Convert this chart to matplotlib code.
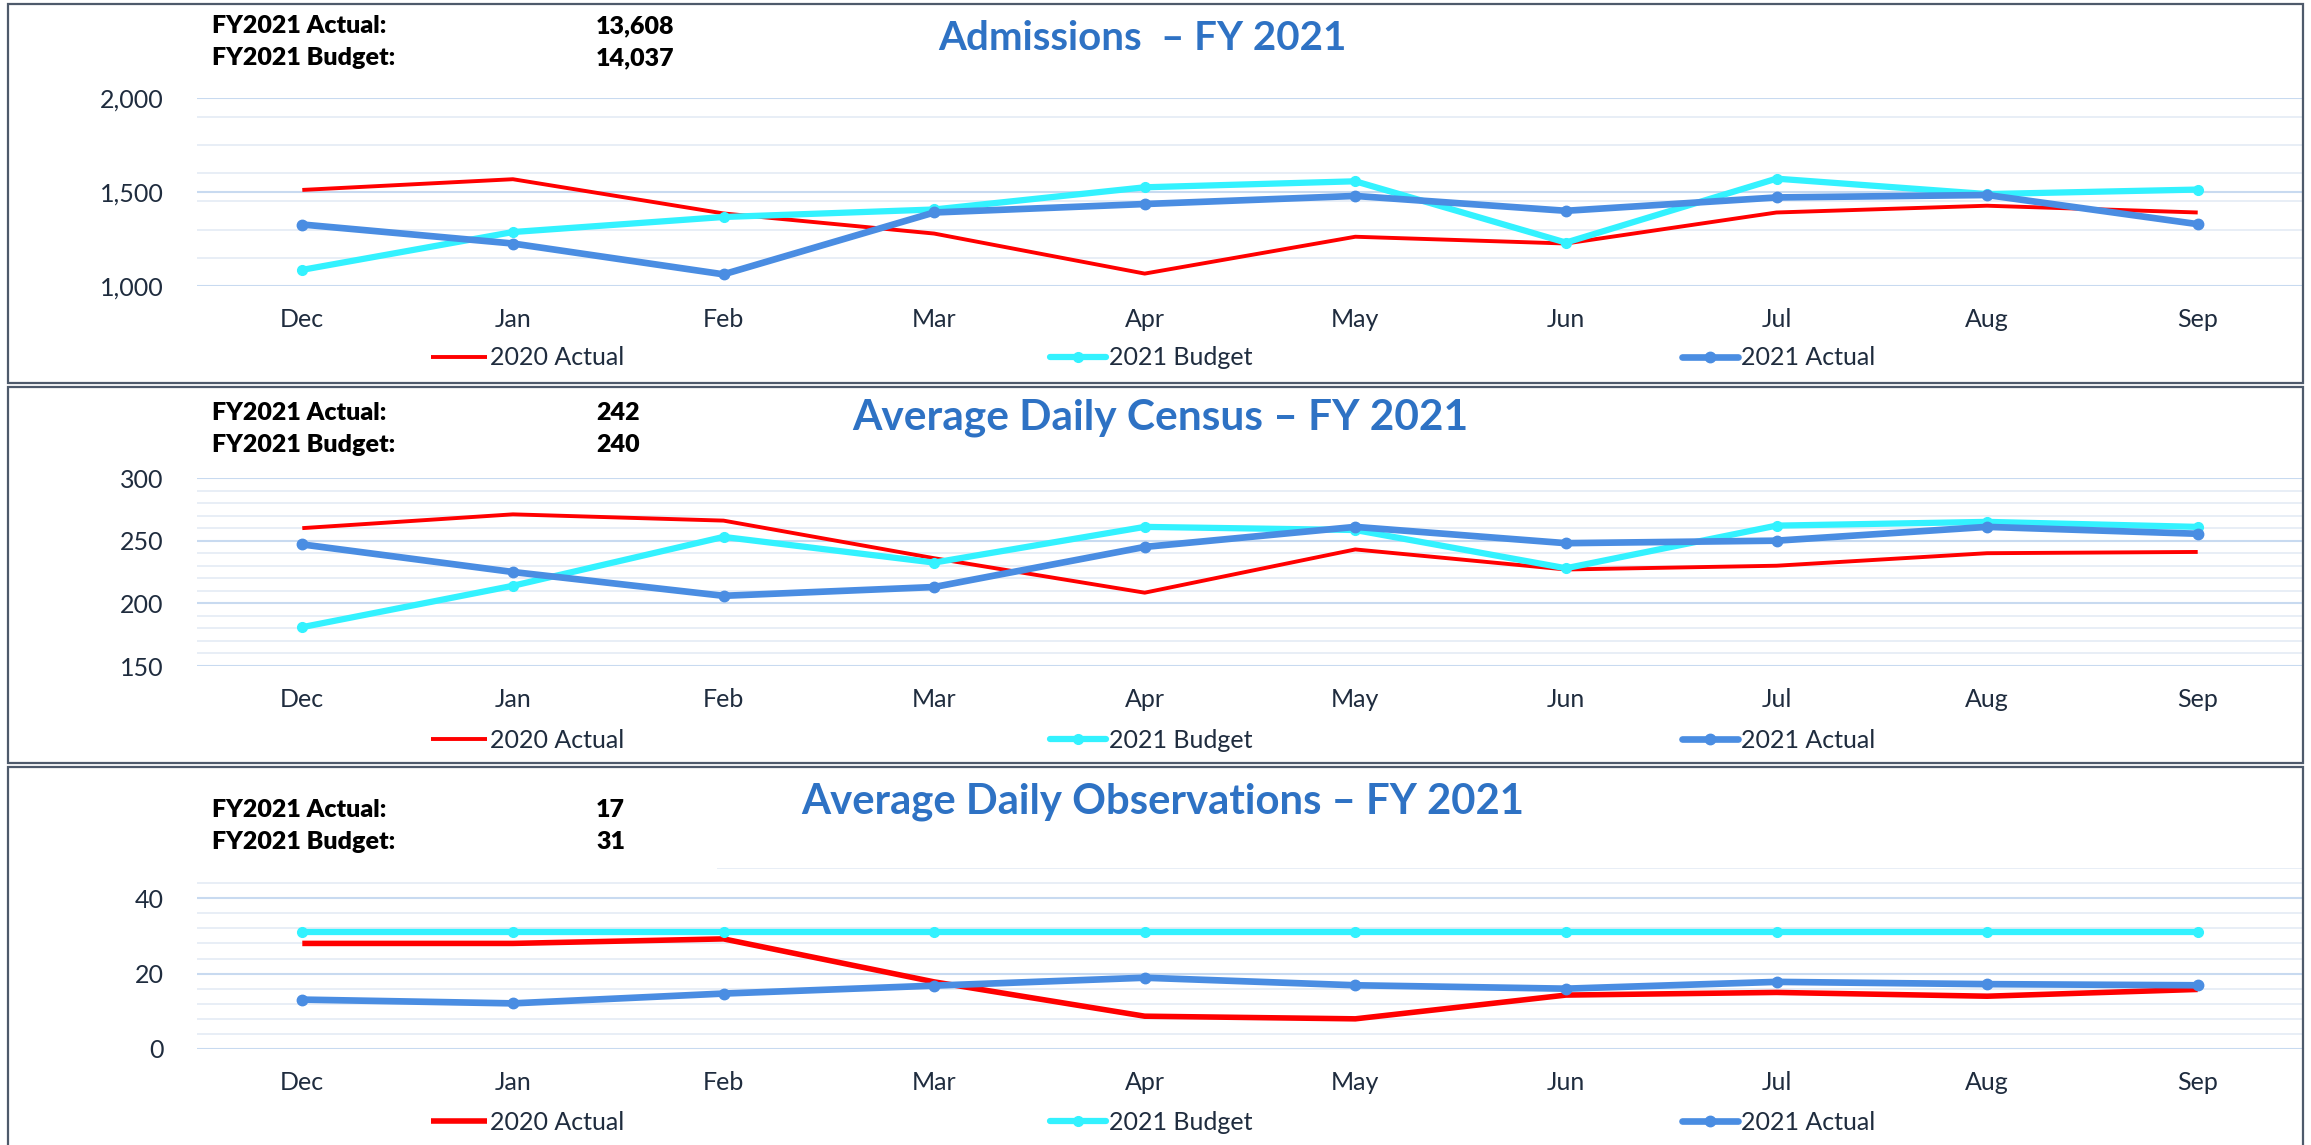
import matplotlib
matplotlib.use('Agg')
import matplotlib.pyplot as plt
from matplotlib.patches import Rectangle
from matplotlib.ticker import FuncFormatter, FixedLocator

# ---------------- data ----------------
months = ['Dec', 'Jan', 'Feb', 'Mar', 'Apr', 'May', 'Jun', 'Jul', 'Aug', 'Sep']
series_names = ['2020 Actual', '2021 Budget', '2021 Actual']

adm_2020_actual = [1511, 1568, 1386, 1279, 1066, 1262, 1226, 1391, 1427, 1391]
adm_2021_budget = [1086, 1287, 1367, 1407, 1525, 1557, 1231, 1571, 1489, 1513]
adm_2021_actual = [1327, 1226, 1062, 1391, 1436, 1479, 1400, 1471, 1484, 1329]

adc_2020_actual = [260, 271, 266, 236, 208.5, 243, 227, 230, 240, 241]
adc_2021_budget = [181, 214, 253, 232.5, 261, 258.5, 228, 262, 265, 261]
adc_2021_actual = [247, 225, 206, 213, 245, 261, 248, 250, 261, 255.5]

obs_2020_actual = [28, 28, 29.2, 17.8, 8.7, 8.0, 14.3, 15.0, 14.0, 15.8]
obs_2021_budget = [31, 31, 31, 31, 31, 31, 31, 31, 31, 31]
obs_2021_actual = [13.1, 12.1, 14.7, 16.8, 18.9, 16.9, 16.0, 17.8, 17.2, 16.9]

titles = ['Admissions  \u2013 FY 2021',
          'Average Daily Census \u2013 FY 2021',
          'Average Daily Observations \u2013 FY 2021']
summary_labels = ['FY2021 Actual:', 'FY2021 Budget:']
summary_values = [['13,608', '14,037'], ['242', '240'], ['17', '31']]

y_limits = [(1000, 2000), (150, 300), (0, 48)]
y_major = [[1000, 1500, 2000], [150, 200, 250, 300], [0, 20, 40]]
y_minor = [[1150, 1300, 1450, 1600, 1750, 1900],
           [160, 170, 180, 190, 210, 220, 230, 240, 260, 270, 280, 290],
           [4, 8, 12, 16, 24, 28, 32, 36, 44, 48]]

# ---------------- style ----------------
W, H = 2311, 1145
RED = '#FF0000'
CYAN = '#33F2FF'
BLUE = '#4A8DE2'
TITLE_C = '#2E72C4'
TXT = '#1F2C3E'
GRID_MAJ = '#C8DAF0'
GRID_MIN = '#E6EDF6'
BORDER = '#4E5A6B'
FONT = 'Lato'

fig = plt.figure(figsize=(W / 100, H / 100), dpi=100)
fig.patch.set_facecolor('white')


def fx(x):
    return x / W


def fy(y):
    return 1 - y / H


# panel geometry in pixels (top of axes, bottom of axes)
axes_px = [(98, 286), (478, 666), (868, 1049)]
panel_box = [(4, 383), (387, 763), (767, 1160)]
title_pos = [(1142, 38), (1160, 418), (1163, 802)]
title_size = [29, 30.5, 30.2]
summary_y = [(26, 58), (413, 445), (810, 842)]
legend_y = [358, 740, 1122]
red_lw = [2.8, 2.8, 4.0]

data = [
    (adm_2020_actual, adm_2021_budget, adm_2021_actual),
    (adc_2020_actual, adc_2021_budget, adc_2021_actual),
    (obs_2020_actual, obs_2021_budget, obs_2021_actual),
]

x_left, x_right = 197, 2303

for i in range(3):
    top, bot = axes_px[i]
    ax = fig.add_axes([fx(x_left), fy(bot), (x_right - x_left) / W, (bot - top) / H])
    ax.set_facecolor('none')
    for s in ax.spines.values():
        s.set_visible(False)
    xs = list(range(len(months)))
    a2020, b2021, a2021 = data[i]
    l1, = ax.plot(xs, a2020, color=RED, lw=red_lw[i], solid_capstyle='butt', zorder=3,
                  clip_on=False)
    l2, = ax.plot(xs, b2021, color=CYAN, lw=4.5, marker='o', ms=7, mec=CYAN, mfc=CYAN,
                  solid_capstyle='round', zorder=4, clip_on=False)
    l3, = ax.plot(xs, a2021, color=BLUE, lw=4.8, marker='o', ms=7.5, mec=BLUE, mfc=BLUE,
                  solid_capstyle='round', zorder=5, clip_on=False)
    ax.set_xlim(-0.5, len(months) - 0.5)
    ax.set_ylim(*y_limits[i])
    ax.set_xticks(xs)
    ax.set_xticklabels(months)
    ax.yaxis.set_major_locator(FixedLocator(y_major[i]))
    ax.yaxis.set_minor_locator(FixedLocator(y_minor[i]))
    ax.yaxis.set_major_formatter(FuncFormatter(lambda v, p: f'{int(v):,}'))
    ax.tick_params(axis='both', which='both', length=0, labelsize=18, labelcolor=TXT)
    ax.tick_params(axis='y', pad=24)
    ax.tick_params(axis='x', pad=16)
    for lab in ax.get_xticklabels() + ax.get_yticklabels():
        lab.set_fontfamily(FONT)
    ax.grid(True, which='major', axis='y', color=GRID_MAJ, lw=1.5, zorder=0)
    ax.grid(True, which='minor', axis='y', color=GRID_MIN, lw=1.3, zorder=0)
    ax.set_axisbelow(True)

    # legends (Excel-style, spread across the width)
    leg_x = [431, 1050, 1682]
    handles = [l1, l2, l3]
    for j in range(3):
        lg = ax.legend(handles=[handles[j]], labels=[series_names[j]], loc='center left',
                       bbox_to_anchor=(fx(leg_x[j]), fy(legend_y[i])),
                       bbox_transform=fig.transFigure, frameon=False, borderpad=0,
                       borderaxespad=0, handlelength=2.25, handletextpad=0.12,
                       numpoints=1, prop={'family': FONT, 'size': 18})
        for t in lg.get_texts():
            t.set_color(TXT)
        if j < 2:
            ax.add_artist(lg)

    # title
    fig.text(fx(title_pos[i][0]), fy(title_pos[i][1]), titles[i], ha='center',
             va='center', fontsize=title_size[i], fontweight='bold', color=TITLE_C,
             family=FONT)
    # summary text
    for k in range(2):
        fig.text(fx(212), fy(summary_y[i][k]), summary_labels[k], ha='left', va='center',
                 fontsize=18, fontweight='heavy', color='black', family=FONT, zorder=10)
        fig.text(fx(596), fy(summary_y[i][k]), summary_values[i][k], ha='left',
                 va='center', fontsize=18, fontweight='heavy', color='black', family=FONT,
                 zorder=10)

    # panel border
    pt, pb = panel_box[i]
    fig.patches.append(Rectangle((fx(8), fy(pb)), (2303 - 8) / W, (pb - pt) / H,
                                 transform=fig.transFigure, fill=False, ec=BORDER,
                                 lw=1.6, zorder=20))

# white text box in the third panel covering part of the top gridline
fig.patches.append(Rectangle((fx(192), fy(875)), (717 - 192) / W, (875 - 785) / H,
                             transform=fig.transFigure, fc='white', ec='none', zorder=8))

fig.savefig('out.png', dpi=100, facecolor='white')
